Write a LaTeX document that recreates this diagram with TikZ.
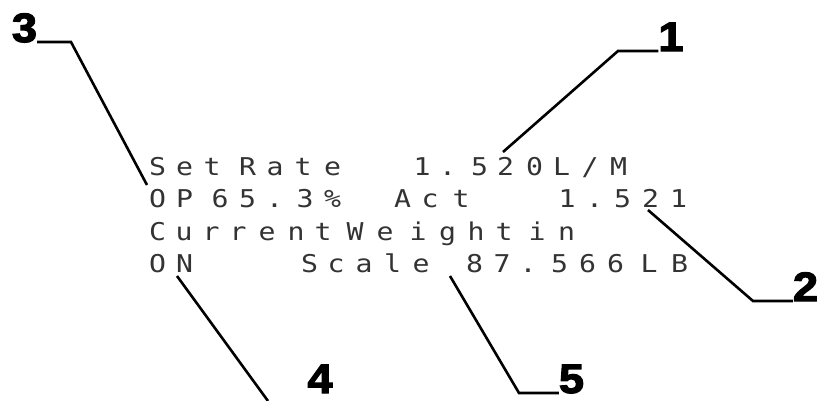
\documentclass[tikz,border=0pt]{standalone}
\usepackage{fontspec}
\newfontfamily\lcdfont[FakeStretch=1.15]{DejaVu Sans Mono}
\newfontfamily\calfont[FakeBold=3,FakeStretch=1.1]{Liberation Sans Bold}
\newcommand\lcdsl{/}
\tikzset{
  lcd/.style={anchor=base,inner sep=0pt,font=\lcdfont\fontsize{24.5}{24.5}\selectfont,text=black!80},
  callout/.style={anchor=base,inner sep=0pt,font=\calfont\fontsize{41}{41}\selectfont},
  leader/.style={line width=2.6pt}
}
\begin{document}
\begin{tikzpicture}[x=1pt,y=-1pt]
\useasboundingbox (0,0) rectangle (822,400);
% LCD line 1
\foreach \x/\c [count=\i] in {157.5/S,184.5/e,212/t,247.5/R,275/a,303/t,332.5/e,422/1,447.5/.,479.5/5,505.5/2,534.5/0,561.5/L,590/\lcdsl,618.5/M}
  \node[lcd] (a\i) at (\x,175) {\c};
% LCD line 2
\foreach \x/\c [count=\i] in {157.5/O,184.5/P,220/6,247.5/5,274.5/.,305/3,332.5/\%,402.5/A,430/c,461/t,567/1,594.5/.,622.5/5,650.5/2,678.5/1}
  \node[lcd] (b\i) at (\x,207) {\c};
% LCD line 3
\foreach \x/\c [count=\i] in {157.5/C,184/u,211/r,238/r,267/e,296/n,323/t,355/W,385/e,418/i,447.5/g,476/h,504/t,537/i,566.5/n}
  \node[lcd] (c\i) at (\x,240) {\c};
% LCD line 4
\foreach \x/\c [count=\i] in {157.5/O,184.5/N,309.5/S,336/c,364/a,392.5/l,421/e,474.5/8,502/7,528/.,559.5/5,587.5/6,615.5/6,649/L,679.5/B}
  \node[lcd] (d\i) at (\x,272) {\c};
% callouts
\node[callout] (n3) at (24.5,42) {3};
\node[callout] (n1) at (671,51) {1};
\node[callout] (n2) at (805.5,301) {2};
\node[callout] (n4) at (320,393) {4};
\node[callout] (n5) at (571.5,393) {5};
\coordinate (k3) at (71,42);  \coordinate (e3) at (147,185);
\coordinate (k1) at (618,51); \coordinate (e1) at (503,152);
\coordinate (k2) at (753,301); \coordinate (e2) at (648,210);
\coordinate (k5) at (519,393); \coordinate (e5) at (450,276);
\coordinate (s4) at (177,276); \coordinate (e4) at (268,401);
\draw[leader] (n3.base east) -- (k3) -- (e3);
\draw[leader] (n1.base west) -- (k1) -- (e1);
\draw[leader] (n2.base west) -- (k2) -- (e2);
\draw[leader] (n5.base west) -- (k5) -- (e5);
\draw[leader] (s4) -- (e4);
\end{tikzpicture}
\end{document}
